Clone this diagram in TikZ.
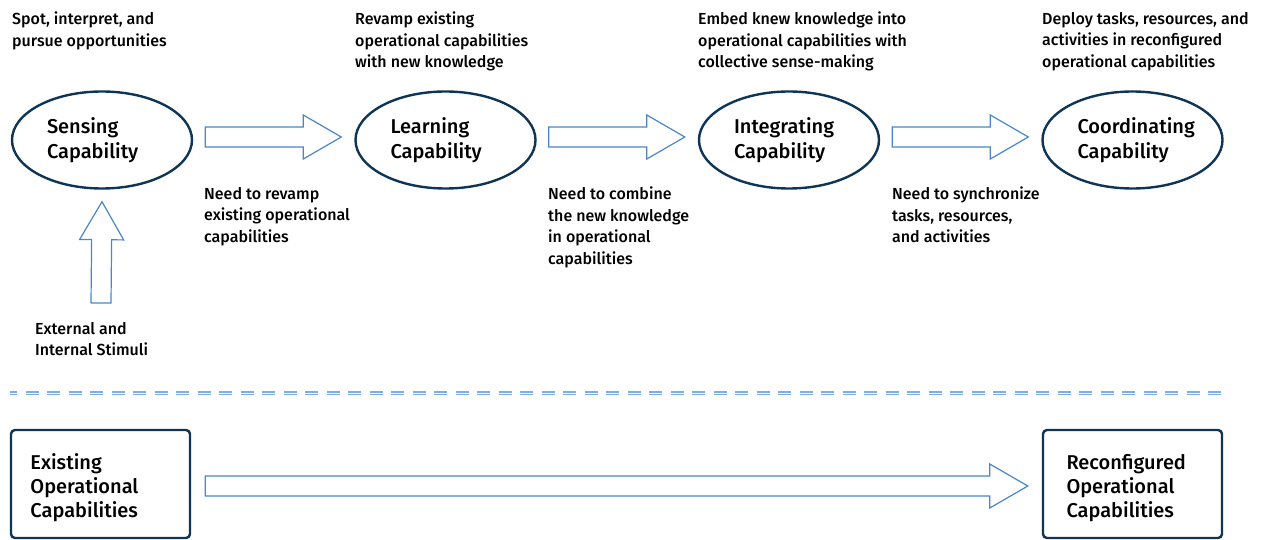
\documentclass[tikz,border=0pt]{standalone}
\usepackage{fontspec}
\setmainfont{Fira Sans Medium}
\usetikzlibrary{shapes.geometric, calc}

\definecolor{capnavy}{HTML}{0E3556}
\definecolor{arrowblue}{HTML}{4A86C8}
\definecolor{dashblue}{HTML}{7EB0DE}

\tikzset{
  capability/.style={ellipse, draw=capnavy, line width=2.4pt, minimum width=180pt,
    minimum height=97pt, inner sep=0pt, text width=110pt, align=left,
    font=\fontsize{20}{25}\selectfont},
  opbox/.style={rectangle, rounded corners=4pt, draw=capnavy, line width=2.4pt,
    minimum width=179pt, minimum height=108pt, inner sep=0pt, text width=140pt,
    align=left, font=\fontsize{20}{24}\selectfont,
    execute at begin node={\rule{0pt}{23pt}}},
  note/.style={anchor=north west, inner sep=0pt, align=left,
    font=\fontsize{16}{21.5}\selectfont, execute at begin node=\strut},
  % hollow block arrow from start to target
  fat arrow/.style={draw=arrowblue, line width=1.2pt, line join=miter, to path={
    let \p1=($(\tikztotarget)!38pt!(\tikztostart)$) in
    ($(\tikztostart)!10pt!90:(\tikztotarget)$) -- ($(\p1)!10pt!90:(\tikztotarget)$)
    -- ($(\p1)!22pt!90:(\tikztotarget)$) -- (\tikztotarget)
    -- ($(\p1)!22pt!-90:(\tikztotarget)$) -- ($(\p1)!10pt!-90:(\tikztotarget)$)
    -- ($(\tikztostart)!10pt!-90:(\tikztotarget)$) -- cycle}}
}

\begin{document}
\begin{tikzpicture}[x=1pt, y=-1pt]
\useasboundingbox (0,0) rectangle (1270,540);

% the four capabilities
\node[capability] (sensing) at (102,140) {Sensing\\Capability};
\node[capability] (learning) at (445.5,140) {Learning\\Capability};
\node[capability] (integrating) at (789,140) {Integrating\\Capability};
\node[capability] (coordinating) at (1132.5,140) {Coordinating\\Capability};

% what each capability does
\node[note] (sensing-top) at (12,12) {Spot, interpret, and\\pursue opportunities};
\node[note] (learning-top) at (355,12) {Revamp existing\\operational capabilities\\with new knowledge};
\node[note] (integrating-top) at (698,12) {Embed knew knowledge into\\operational capabilities with\\collective sense-making};
\node[note] (coordinating-top) at (1042,12) {Deploy tasks, resources, and\\activities in reconfigured\\operational capabilities};

% why the next step is needed
\node[note] (need-revamp) at (204,187) {Need to revamp\\existing operational\\capabilities};
\node[note] (need-combine) at (548,187) {Need to combine\\the new knowledge\\in operational\\capabilities};
\node[note] (need-sync) at (892,187) {Need to synchronize\\tasks, resources,\\and activities};

\node[note] (stimuli) at (35,322) {External and\\Internal Stimuli};
\coordinate (stimuli-in) at (101,303);

% separator
\coordinate (rule-l) at (10,393);
\coordinate (rule-r) at (1223,393);
\draw[dashblue, line width=1.3pt, double=white, double distance=1pt,
      dash pattern=on 13pt off 8.5pt, dash phase=6pt] (rule-l) -- (rule-r);

% operational capabilities
\node[opbox] (existing) at (100.5,484) {Existing\\Operational\\Capabilities};
\node[opbox, text width=132pt] (reconfigured) at (1132.5,484) {Reconfigured\\Operational\\Capabilities};

% block arrows
\draw[fat arrow] (stimuli-in) to ([yshift=-12pt]sensing.south);
\draw[fat arrow] ([xshift=12pt,yshift=3pt]sensing.east) to ([xshift=-13pt,yshift=3pt]learning.west);
\draw[fat arrow] ([xshift=12pt,yshift=3pt]learning.east) to ([xshift=-13pt,yshift=3pt]integrating.west);
\draw[fat arrow] ([xshift=12pt,yshift=3pt]integrating.east) to ([xshift=-13pt,yshift=3pt]coordinating.west);
\draw[fat arrow] ([xshift=14pt,yshift=-2pt]existing.east) to ([xshift=-14pt,yshift=-2pt]reconfigured.west);
\end{tikzpicture}
\end{document}
